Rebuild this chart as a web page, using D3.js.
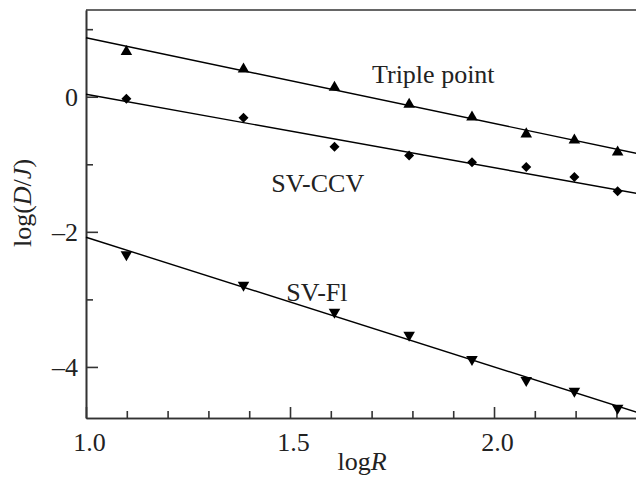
<!DOCTYPE html>
<html>
<head>
<meta charset="utf-8">
<script src="https://cdn.jsdelivr.net/npm/d3@7"></script>
<style>
  body { margin: 0; background: #fff; }
  svg { display: block; font-family: "Liberation Serif", "Times New Roman", serif; }
</style>
</head>
<body>
<svg id="chart" width="636" height="477"></svg>
<script>
// data
var logR = [1.099, 1.386, 1.609, 1.792, 1.946, 2.079, 2.197, 2.303]
var triplePoint = [0.69, 0.43, 0.16, -0.09, -0.28, -0.53, -0.62, -0.80]
var svCCV = [-0.03, -0.31, -0.74, -0.87, -0.97, -1.04, -1.19, -1.40]
var svFl = [-2.36, -2.81, -3.21, -3.55, -3.91, -4.22, -4.38, -4.63]

// fitted straight lines, value at logR = 1.0 and logR = 2.35
var fitX = [1.0, 2.35]
var tripleFit = [0.874, -0.84]
var ccvFit = [0.036, -1.43]
var flFit = [-2.08, -4.67]

var xMajor = [1.0, 1.5, 2.0]
var xMinor = [1.1, 1.2, 1.3, 1.4, 1.6, 1.7, 1.8, 1.9, 2.1, 2.2, 2.3]
var yMajor = [-4, -2, 0]
var yMinor = [-3, -1, 1]

var svg = d3.select("#chart")

var x = d3.scaleLinear().domain([1.0, 2.36]).range([86, 640.9])
var y = d3.scaleLinear().domain([-4.756, 1.284]).range([418, 10])

var axisColor = "#333"
var fontSize = 26

// minor ticks first, then major with labels
svg.append("g").attr("transform", "translate(0,418)")
    .call(d3.axisBottom(x).tickValues(xMinor).tickSizeInner(-7).tickSizeOuter(0).tickFormat(""))
var gx = svg.append("g")
    .attr("transform", "translate(0,418)")
    .call(d3.axisBottom(x).tickValues(xMajor).tickSizeInner(-11).tickSizeOuter(0).tickPadding(15).tickFormat(d3.format(".1f")))

svg.append("g").attr("transform", "translate(86,0)")
    .call(d3.axisLeft(y).tickValues(yMinor).tickSizeInner(-7).tickSizeOuter(0).tickFormat(""))
var gy = svg.append("g")
    .attr("transform", "translate(86,0)")
    .call(d3.axisLeft(y).tickValues(yMajor).tickSizeInner(-12).tickSizeOuter(0).tickPadding(8)
        .tickFormat(function(d){ return d < 0 ? "\u2013" + Math.abs(d) : d }))

svg.selectAll(".domain, .tick line").attr("stroke", axisColor).attr("stroke-width", 1.6)
svg.selectAll(".tick text")
    .attr("font-family", "Liberation Serif, Times New Roman, serif")
    .attr("font-size", fontSize)
    .attr("fill", "#222")
gx.selectAll(".tick text").attr("dx", 3)

// top frame line
svg.append("line")
    .attr("x1", x(1.0)).attr("x2", 636)
    .attr("y1", 10).attr("y2", 10)
    .attr("stroke", axisColor).attr("stroke-width", 1.6)

// fit lines
var fits = [tripleFit, ccvFit, flFit]
svg.selectAll("line.fit")
    .data(fits).enter()
    .append("line")
        .attr("class", "fit")
        .attr("x1", x(fitX[0]))
        .attr("x2", x(fitX[1]))
        .attr("y1", function(d){ return y(d[0]) })
        .attr("y2", function(d){ return y(d[1]) })
        .attr("stroke", "#000")
        .attr("stroke-width", 1.4)

// markers
var tri = d3.symbol().type(d3.symbolTriangle).size(58)
var dia = d3.symbol().type(d3.symbolSquare).size(50)

svg.selectAll("path.up")
    .data(triplePoint).enter()
    .append("path")
        .attr("class", "up")
        .attr("d", tri)
        .attr("transform", function(d,i){ return "translate(" + x(logR[i]) + "," + (y(d) + 1.5) + ")" })
        .attr("fill", "#000")

svg.selectAll("path.dia")
    .data(svCCV).enter()
    .append("path")
        .attr("class", "dia")
        .attr("d", dia)
        .attr("transform", function(d,i){ return "translate(" + x(logR[i]) + "," + y(d) + ") rotate(45)" })
        .attr("fill", "#000")

svg.selectAll("path.down")
    .data(svFl).enter()
    .append("path")
        .attr("class", "down")
        .attr("d", tri)
        .attr("transform", function(d,i){ return "translate(" + x(logR[i]) + "," + (y(d) - 1.5) + ") rotate(180)" })
        .attr("fill", "#000")

// series labels
var labels = [
    {text: "Triple point", x: 1.701, y: 0.2},
    {text: "SV-CCV", x: 1.454, y: -1.41},
    {text: "SV-Fl", x: 1.491, y: -3.02}
]
svg.selectAll("text.lab")
    .data(labels).enter()
    .append("text")
        .attr("class", "lab")
        .attr("x", function(d){ return x(d.x) })
        .attr("y", function(d){ return y(d.y) })
        .attr("font-size", fontSize)
        .attr("fill", "#222")
        .text(function(d){ return d.text })

// axis titles
var xt = svg.append("text")
    .attr("x", 362).attr("y", 470)
    .attr("text-anchor", "middle")
    .attr("font-size", fontSize)
    .attr("fill", "#222")
xt.append("tspan").text("log")
xt.append("tspan").attr("font-style", "italic").text("R")

var yt = svg.append("text")
    .attr("transform", "translate(31,203) rotate(-90)")
    .attr("text-anchor", "middle")
    .attr("font-size", fontSize)
    .attr("fill", "#222")
yt.append("tspan").text("log(")
yt.append("tspan").attr("font-style", "italic").text("D")
yt.append("tspan").text("/")
yt.append("tspan").attr("font-style", "italic").text("J")
yt.append("tspan").text(")")
</script>
</body>
</html>
